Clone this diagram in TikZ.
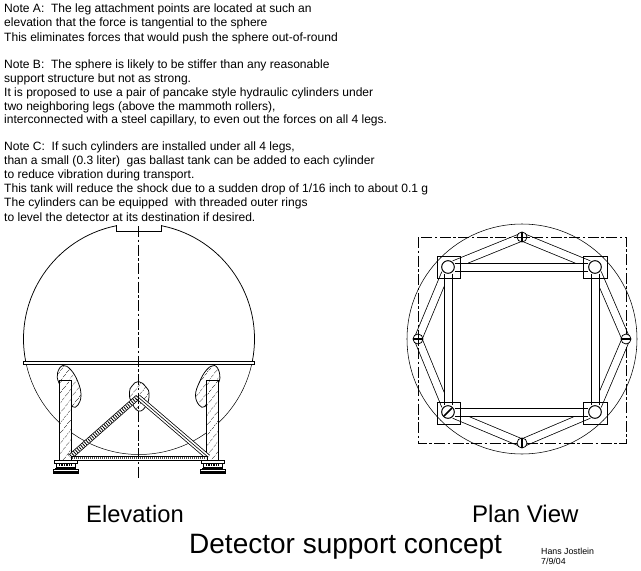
\documentclass[tikz,border=0pt]{standalone}
\usepackage{fontspec}
\setmainfont{Liberation Sans}
\usetikzlibrary{calc,patterns.meta}
\tikzset{
 ln/.style={line width=.75pt,black},
 note/.style={anchor=west,inner sep=0pt,font=\fontsize{12.05}{13}\selectfont},
 title/.style={anchor=base west,inner sep=0pt},
 axis/.style={line width=.7pt,dash pattern=on 11pt off 2.5pt on 2.5pt off 2.5pt},
 hatch/.style={pattern={Lines[angle=52,distance=6.5pt,line width=.5pt]}},
 strut/.style={line width=.75pt,double=white,double distance=7pt},
 beam/.style={line width=1pt,double=white,double distance=7pt},
 pad/.style={circle,draw,line width=.75pt,fill=white,minimum size=10pt,inner sep=0pt},
 post/.style={circle,draw,line width=.8pt,fill=white,minimum size=12.5pt,inner sep=0pt},
 fpad/.style={draw,line width=.75pt,minimum width=23.5pt,minimum height=22pt,inner sep=0pt},
}
\begin{document}
\begin{tikzpicture}[x=1pt,y=-1pt]
\useasboundingbox (0,0) rectangle (641,571);
\fill[white] (0,0) rectangle (641,571);
% notes
\node[note] (a1) at (4,9.5) {Note A:~ The leg attachment points are located at such an};
\node[note] (a2) at (4,23.5) {elevation that the force is tangential to the sphere};
\node[note] (a3) at (4,38) {This eliminates forces that would push the sphere out-of-round};
\node[note] (b1) at (4,65) {Note B:~ The sphere is likely to be stiffer than any reasonable};
\node[note] (b2) at (4,79) {support structure but not as strong.};
\node[note] (b3) at (4,93) {It is proposed to use a pair of pancake style hydraulic cylinders under};
\node[note] (b4) at (4,107) {two neighboring legs (above the mammoth rollers),};
\node[note] (b5) at (4,120.5) {interconnected with a steel capillary, to even out the forces on all 4 legs.};
\node[note] (c1) at (4,147.5) {Note C:~ If such cylinders are installed under all 4 legs,};
\node[note] (c2) at (4,161.5) {than a small (0.3 liter)~ gas ballast tank can be added to each cylinder};
\node[note] (c3) at (4,175.5) {to reduce vibration during transport.};
\node[note] (c4) at (4,189.5) {This tank will reduce the shock due to a sudden drop of 1/16 inch to about 0.1 g};
\node[note] (c5) at (4,203.5) {The cylinders can be equipped~ with threaded outer rings};
\node[note] (c6) at (4,217.5) {to level the detector at its destination if desired.};
% elevation: sphere
\coordinate (sc) at (139,339);
\draw[ln] (sc) ++(191:115.5pt) arc[start angle=191,end angle=101.5,radius=115.5pt];
\draw[ln] (sc) ++(78.5:115.5pt) arc[start angle=78.5,end angle=-11,radius=115.5pt];
\draw[line width=.5pt] (sc) ++(193:115.5pt) arc[start angle=193,end angle=347,radius=115.5pt];
\draw[ln] (116,225) -- (116,231) -- (161,231) -- (161,225);
% belt
\draw[line width=1pt] (23.5,361) rectangle (254.5,364.5);
% blobs
\draw[ln,hatch] plot[smooth cycle,tension=.7] coordinates {(63,365.5) (71,370) (78,382) (81,395) (78,405) (72,406.5) (67,395) (59,383) (57.5,373)};
\draw[ln,hatch] plot[smooth cycle,tension=.7] coordinates {(214.5,365.5) (206.5,370) (199.5,382) (195.5,395) (199,405) (205,406.5) (210,395) (218.5,383) (219.5,373)};
\draw[ln,hatch] plot[smooth cycle,tension=.8] coordinates {(138.5,381.5) (146,387) (149,394) (146.5,405) (138.5,411) (131,401) (129.5,392) (132,386)};
% legs
\draw[ln,fill=white] (59.5,380) rectangle (71.5,460);
\draw[ln,hatch] (59.5,380) rectangle (71.5,460);
\draw[ln,fill=white] (206.5,380) rectangle (218.5,460);
\draw[ln,hatch] (206.5,380) rectangle (218.5,460);
% struts
\coordinate (ft) at (138,397);
\coordinate (fl) at (70,457);
\coordinate (fr) at (208,457);
\draw[line width=.75pt,double=white,double distance=4pt] (ft) -- (fl);
\draw[line width=4pt,dash pattern=on .8pt off 1.6pt] (ft) -- (fl);
\draw[line width=.75pt,double=white,double distance=4pt] (ft) -- (fr);
\draw[line width=.6pt] (ft) -- (fr);
% bottom beam
\draw[ln,fill=white] (71,456.5) rectangle (207,460);
\draw[line width=1.6pt,dash pattern=on .8pt off 1.2pt,black!70] (72,458.2) -- (206,458.2);
% feet
\foreach \fx in {65.5,212.5}{
 \draw[ln,fill=white] (\fx-11.5,460.5) rectangle (\fx+11.5,463);
 \draw[ln,fill=white] (\fx-9.5,463) rectangle (\fx+9.5,467.5);
 \draw[line width=2.4pt,dash pattern=on 1.4pt off 1pt] (\fx-6.5,465.2) -- (\fx+6.5,465.2);
 \draw[line width=1pt] (\fx-10.5,468) -- (\fx+10.5,468);
 \fill[black] (\fx-13,469) rectangle (\fx+13,474);
 \fill[black] (\fx-13,469) rectangle (\fx+13,474);
 \draw[white,line width=.5pt] (\fx-12,470.6) -- (\fx+12,470.6);
}
\draw[axis] (138.5,226) -- (138.5,479);
% plan view
\coordinate (pc) at (522,339);
\node[post] (tl) at (448,267) {};
\node[post] (tr) at (595,267) {};
\node[post] (bl) at (448,412) {};
\node[post] (br) at (595,412) {};
\coordinate (pt) at (522,237);
\coordinate (pb) at (522,443);
\coordinate (pl) at (418,339);
\coordinate (pr) at (626,339);
\draw[strut] (tl) -- (pt); \draw[strut] (tr) -- (pt);
\draw[strut] (tr) -- (pr); \draw[strut] (br) -- (pr);
\draw[strut] (br) -- (pb); \draw[strut] (bl) -- (pb);
\draw[strut] (bl) -- (pl); \draw[strut] (tl) -- (pl);
\draw[beam] (tl) -- (tr); \draw[beam] (bl) -- (br);
\draw[beam] (tl) -- (bl); \draw[beam] (tr) -- (br);
\draw[line width=.55pt] (pc) circle[radius=115pt];
\draw[axis] (418,237) rectangle (626,443);
\node[fpad] (stl) at (449,267) {};
\node[fpad] (str) at (595.5,267) {};
\node[fpad] (sbl) at (449,413) {};
\node[fpad] (sbr) at (595.5,413) {};
\node[post] at (tl) {}; \node[post] at (tr) {};
\node[post] at (bl) {}; \node[post] at (br) {};
\draw[line width=1.6pt] (444,416) -- (452,408);
\node[pad] (npt) at (pt) {};
\node[pad] (npb) at (pb) {};
\node[pad] (npl) at (pl) {};
\node[pad] (npr) at (pr) {};
\draw[line width=1.4pt] (npt.north) -- (npt.south);
\draw[line width=.6pt] (npt.west) -- (npt.east);
\draw[line width=1.6pt] (npb.north) -- (npb.south);
\draw[line width=1.4pt] (npl.west) -- (npl.east);
\draw[line width=.6pt] (npl.north) -- (npl.south);
\draw[line width=1.6pt] (npr.west) -- (npr.east);
% titles
\node[title,font=\fontsize{23.7}{26}\selectfont] (t1) at (86,522) {Elevation};
\node[title,font=\fontsize{24}{26}\selectfont] (t2) at (472,522) {Plan View};
\node[title,font=\fontsize{28}{32}\selectfont] (t3) at (189,553) {Detector support concept};
\node[title,font=\fontsize{8.8}{10}\selectfont] (h1) at (541,554) {Hans Jostlein};
\node[title,font=\fontsize{8.8}{10}\selectfont] (h2) at (541,564) {7/9/04};
\end{tikzpicture}
\end{document}
